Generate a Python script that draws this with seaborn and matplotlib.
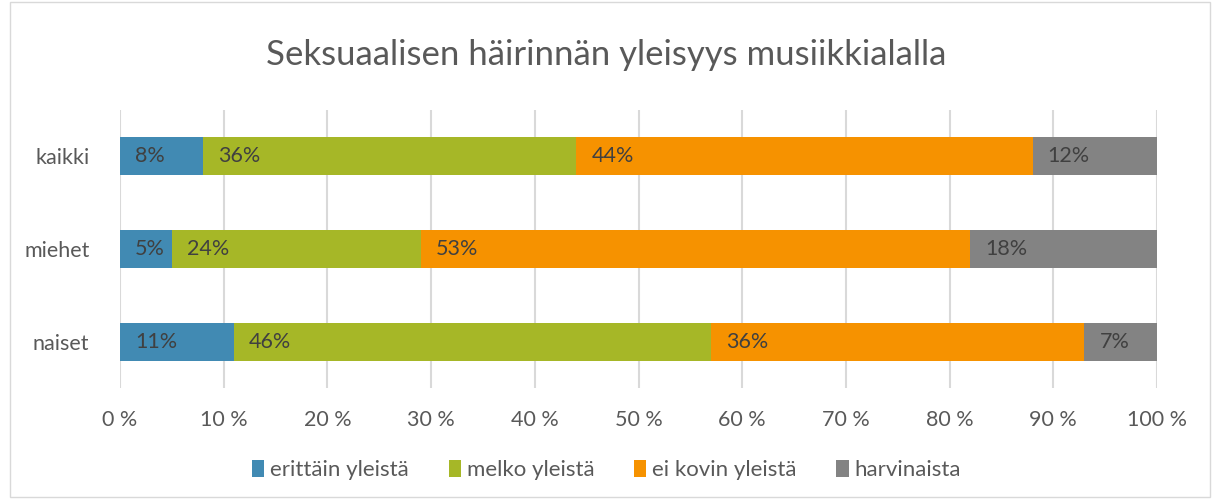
import numpy as np
import pandas as pd
import matplotlib
matplotlib.use("Agg")
import matplotlib.pyplot as plt
import seaborn as sns
from matplotlib.patches import Rectangle, Patch

categories = ["kaikki", "miehet", "naiset"]
series_names = ["erittäin yleistä", "melko yleistä", "ei kovin yleistä", "harvinaista"]
erittain = [8, 5, 11]
melko = [36, 24, 46]
ei_kovin = [44, 53, 36]
harvinaista = [12, 18, 7]
xtick_labels = ["0 %", "10 %", "20 %", "30 %", "40 %", "50 %", "60 %", "70 %", "80 %", "90 %", "100 %"]
title = "Seksuaalisen häirinnän yleisyys musiikkialalla"

colors = ["#418AB3", "#A6B727", "#F69200", "#838383"]
text_col = "#595959"

sns.set_theme(style="white")
plt.rcParams["font.family"] = ["Lato", "DejaVu Sans"]

values = [erittain, melko, ei_kovin, harvinaista]
df = pd.DataFrame({"category": categories})
for name, v in zip(series_names, values):
    df[name] = v
cum = df[series_names].cumsum(axis=1)

fig = plt.figure(figsize=(12.13, 5.04), dpi=100)
ax = fig.add_axes([120/1213, 1-388/504, (1157-120)/1213, (388-110)/504])

for i in reversed(range(4)):
    sns.barplot(x=cum[series_names[i]], y=df["category"], orient="h",
                color=colors[i], saturation=1, width=0.41, ax=ax,
                edgecolor="none", zorder=2)

# labels
starts = cum[series_names].values - df[series_names].values
for i, name in enumerate(series_names):
    for j, cat in enumerate(categories):
        ax.annotate(f"{df[name].iloc[j]}%", xy=(starts[j, i], j),
                    xytext=(15, 0), textcoords="offset pixels",
                    va="center", ha="left", fontsize=15.5, color="#404040", zorder=3)

ax.set_xlim(0, 100)
ax.set_ylim(2.5, -0.5)
ax.set_xticks(np.arange(0, 101, 10))
ax.set_xticklabels(xtick_labels, fontsize=15.5, color=text_col)
ax.set_yticks(range(len(categories)))
ax.set_yticklabels(categories, fontsize=15.5, color=text_col)
ax.tick_params(axis="x", length=0, pad=16)
ax.tick_params(axis="y", length=0, pad=22)
ax.set_xlabel("")
ax.set_ylabel("")
ax.xaxis.grid(True, color="#D9D9D9", linewidth=1.5, zorder=0)
ax.set_axisbelow(True)
for s in ax.spines.values():
    s.set_visible(False)

fig.text(0.5, 1-55/504, title, ha="center", va="center", fontsize=25, color=text_col)

handles = [Patch(facecolor=c, edgecolor="none") for c in colors]
fig.legend(handles, series_names, loc="center", bbox_to_anchor=(0.5, 1-470/504),
           ncol=4, frameon=False, fontsize=16, handlelength=0.55, handleheight=0.8,
           handletextpad=0.25, columnspacing=1.8, labelcolor=text_col)

fig.patches.append(Rectangle((10/1213, 1-497/504), 1200/1213, 495/504, transform=fig.transFigure,
                             fill=False, edgecolor="#D9D9D9", linewidth=1))

fig.savefig("out.png", dpi=100)
